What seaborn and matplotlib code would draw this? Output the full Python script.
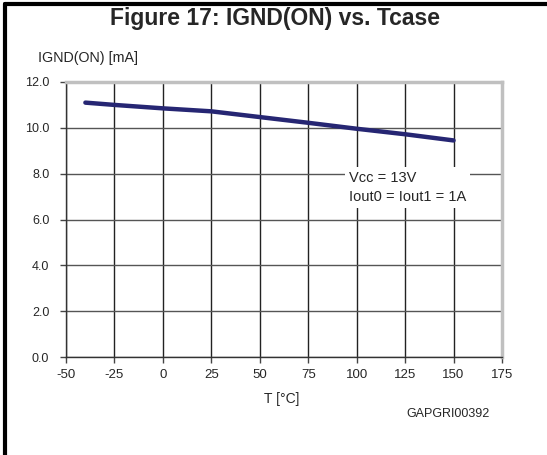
import numpy as np
import pandas as pd
import matplotlib
matplotlib.use('Agg')
import matplotlib.pyplot as plt
import seaborn as sns
from matplotlib.lines import Line2D

temp = [-40, -25, 0, 25, 50, 75, 100, 125, 150]
ignd = [11.1, 11.0, 10.85, 10.72, 10.47, 10.22, 9.96, 9.72, 9.45]
xticks = [-50, -25, 0, 25, 50, 75, 100, 125, 150, 175]
yticks = [0.0, 2.0, 4.0, 6.0, 8.0, 10.0, 12.0]

df = pd.DataFrame({'T': temp, 'IGND': ignd})

sns.set_style('white')
plt.rcParams['font.family'] = ['Liberation Sans', 'DejaVu Sans']

fig = plt.figure(figsize=(5.47, 4.55), dpi=100)
ax = fig.add_axes([66 / 547, 1 - 357 / 455, 436 / 547, 275 / 455])

sns.lineplot(data=df, x='T', y='IGND', ax=ax, color='#262673', linewidth=3.2)

ax.set_xlim(-50, 175)
ax.set_ylim(0, 12)
ax.set_xticks(xticks)
ax.set_yticks(yticks)
ax.set_xticklabels([str(t) for t in xticks], fontsize=9.5)
ax.set_yticklabels(['%.1f' % t for t in yticks], fontsize=9)
ax.tick_params(axis='both', direction='out', length=4, width=1, color='#444444',
               bottom=True, left=True)
ax.tick_params(axis='x', pad=5)
ax.tick_params(axis='y', pad=8)
ax.xaxis.grid(True, color='#222222', linewidth=1)
ax.yaxis.grid(True, color='#555555', linewidth=1)
ax.set_axisbelow(True)
ax.set_xlabel('')
ax.set_ylabel('')
for s in ['left', 'bottom']:
    ax.spines[s].set_color('#333333')
    ax.spines[s].set_linewidth(1)
for s in ['top', 'right']:
    ax.spines[s].set_color('#c0c0c0')
    ax.spines[s].set_linewidth(2.5)

ax.text(96, 7.4, 'Vcc = 13V\nIout0 = Iout1 = 1A', fontsize=10.5, va='center', ha='left',
        linespacing=1.45, bbox=dict(facecolor='white', edgecolor='none', pad=3))

fig.text(275 / 547, 1 - 19 / 455, 'Figure 17: IGND(ON) vs. Tcase', fontsize=16.5,
         fontweight='bold', ha='center', va='center')
fig.text(38 / 547, 1 - 58 / 455, 'IGND(ON) [mA]', fontsize=10.3, ha='left', va='center')
fig.text(282 / 547, 1 - 399 / 455, 'T [°C]', fontsize=10, ha='center', va='center')
fig.text(448 / 547, 1 - 414 / 455, 'GAPGRI00392', fontsize=9, ha='center', va='center')

# page frame
fig.add_artist(Line2D([5 / 547, 5 / 547], [0, 1 - 4 / 455], transform=fig.transFigure,
                      color='black', linewidth=3))
fig.add_artist(Line2D([5 / 547, 1], [1 - 4 / 455, 1 - 4 / 455], transform=fig.transFigure,
                      color='black', linewidth=3))

fig.savefig('out.png', dpi=100)
